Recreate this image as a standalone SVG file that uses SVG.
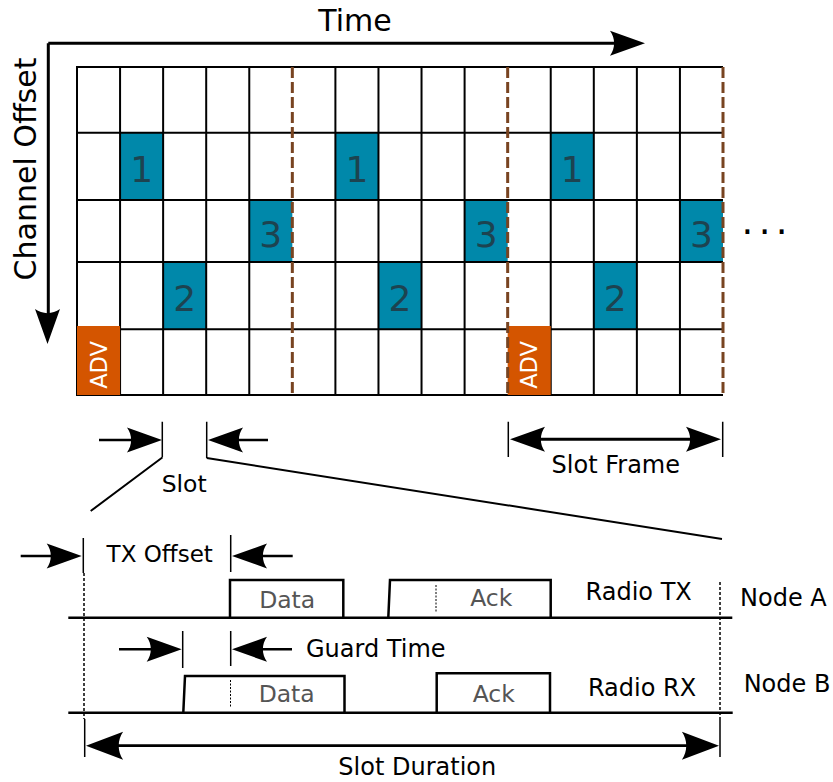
<svg xmlns="http://www.w3.org/2000/svg" width="833" height="782" viewBox="0 0 833 782">
<style>
text{font-family:"DejaVu Sans","Liberation Sans",sans-serif;text-anchor:middle}
.t{font-size:24px;fill:#000}
.gray{font-size:23.5px;fill:#555}
.dig{font-size:36px;fill:#1d4350}
.adv{font-size:22.5px;fill:#fff}
.blue{fill:#0088aa}
.orange{fill:#d45500}
.grid{stroke:#000;stroke-width:2;fill:none}
.div{stroke:#784421;stroke-width:3;stroke-dasharray:11 4;fill:none}
.axis{stroke:#000;stroke-width:3;fill:none}
.ln{stroke:#000;stroke-width:2.5;fill:none}
.thin{stroke:#000;stroke-width:1.5;fill:none}
.dot{stroke:#000;stroke-width:1.5;stroke-dasharray:3 2;fill:none}
.fine{stroke:#000;stroke-width:1;stroke-dasharray:2 1.5;fill:none}
</style>
<defs>
<path id="ah" d="M0,0 L-35,-12.5 C-29.5,-5 -29.5,5 -35,12.5 Z" fill="#000"/>
</defs>

<g id="axes">
<path class="axis" d="M48.3,43.3 H625 M48.3,43.3 V325"/>
<use href="#ah" transform="translate(645,43.3)"/>
<use href="#ah" transform="translate(47.5,344) rotate(90)"/>
<text x="355" y="31" style="font-size:30px">Time</text>
<text transform="translate(36,169) rotate(-90)" style="font-size:30px">Channel Offset</text>
</g>

<g id="cells">
<rect class="blue" x="120.07" y="132.7" width="43.07" height="67.3"/>
<rect class="blue" x="335.4" y="132.7" width="43.07" height="67.3"/>
<rect class="blue" x="550.73" y="132.7" width="43.07" height="67.3"/>
<rect class="blue" x="249.27" y="200" width="43.07" height="62"/>
<rect class="blue" x="464.6" y="200" width="43.07" height="62"/>
<rect class="blue" x="679.93" y="200" width="43.07" height="62"/>
<rect class="blue" x="163.13" y="262" width="43.07" height="67.3"/>
<rect class="blue" x="378.47" y="262" width="43.07" height="67.3"/>
<rect class="blue" x="593.8" y="262" width="43.07" height="67.3"/>
</g>

<g id="grid">
<path class="grid" d="M77,67 H723 M77,132.7 H723 M77,200 H723 M77,262 H723 M77,329.3 H723 M77,395 H723
M77,66 V396 M120.07,67 V395 M163.13,67 V395 M206.2,67 V395 M249.27,67 V395
M335.4,67 V395 M378.47,67 V395 M421.53,67 V395 M464.6,67 V395
M550.73,67 V395 M593.8,67 V395 M636.87,67 V395 M679.93,67 V395"/>
</g>

<g id="adv-cells">
<rect class="orange" x="77" y="326" width="43.07" height="69"/>
<rect class="orange" x="507.67" y="326" width="43.07" height="69"/>
<text class="adv" transform="translate(106.5,365) rotate(-90)">ADV</text>
<text class="adv" transform="translate(537.2,365) rotate(-90)">ADV</text>
</g>

<g id="frame-dividers">
<path class="div" d="M292.33,67 V395 M507.67,67 V395 M723,67 V395"/>
</g>

<g id="cell-labels">
<text class="dig" x="141.6" y="182">1</text>
<text class="dig" x="356.9" y="182">1</text>
<text class="dig" x="572.3" y="182">1</text>
<text class="dig" x="270.8" y="246.5">3</text>
<text class="dig" x="486.1" y="246.5">3</text>
<text class="dig" x="701.5" y="246.5">3</text>
<text class="dig" x="184.7" y="311">2</text>
<text class="dig" x="400" y="311">2</text>
<text class="dig" x="615.3" y="311">2</text>
<text x="741.6" y="233.5" style="font-size:37px;letter-spacing:5.3px;text-anchor:start">...</text>
</g>

<g id="slot-annotation">
<path class="ln" d="M99,440 H140 M230,440 H268"/>
<use href="#ah" transform="translate(162,440)"/>
<use href="#ah" transform="translate(208,440) rotate(180)"/>
<path class="thin" d="M162.3,421.7 V457.5 M206.7,421.7 V458"/>
<path class="thin" style="stroke-width:2" d="M162.3,457.5 L90.7,511 M206.7,458 L722,539"/>
<text class="t" x="184.2" y="492" style="font-size:23.5px">Slot</text>
</g>

<g id="slotframe-annotation">
<path class="thin" d="M508.3,421.7 V457 M722.7,421.7 V457"/>
<path class="axis" d="M530,439.3 H700"/>
<use href="#ah" transform="translate(510,439.3) rotate(180)"/>
<use href="#ah" transform="translate(721,439.3)"/>
<text class="t" x="615.8" y="472.7">Slot Frame</text>
</g>

<g id="tx-offset">
<path class="ln" d="M20.7,556 H60 M254,556 H292.7"/>
<use href="#ah" transform="translate(81.7,556)"/>
<use href="#ah" transform="translate(232,556) rotate(180)"/>
<path class="thin" d="M83.3,538 V573 M230.7,535 V572"/>
<text class="t" x="159.7" y="562" style="font-size:23px">TX Offset</text>
</g>

<g id="node-a">
<path class="ln" d="M68.3,617.7 H732.3"/>
<path class="ln" d="M230,617.7 V580 H343.3 V617.7"/>
<path class="ln" d="M388.3,617.7 L390,580 H550.7 V617.7"/>
<path class="fine" d="M436,585 V612"/>
<text class="gray" x="287.2" y="608.3">Data</text>
<text class="gray" x="491.3" y="606">Ack</text>
<text class="t" x="638.7" y="600">Radio TX</text>
<text class="t" x="783.4" y="605.7">Node A</text>
</g>

<g id="guard-time">
<path class="ln" d="M119,649.3 H160 M254,649.3 H292"/>
<use href="#ah" transform="translate(181.7,649.3)"/>
<use href="#ah" transform="translate(232,649.3) rotate(180)"/>
<path class="thin" d="M182.7,631 V668 M230.7,631 V666"/>
<text class="t" x="375.8" y="657.3">Guard Time</text>
</g>

<g id="node-b">
<path class="ln" d="M68.3,712.7 H732.7"/>
<path class="ln" d="M183.3,712.7 L185,676 H344.5 V712.7"/>
<path class="ln" d="M436.7,712.7 V673.3 H550 V712.7"/>
<path class="fine" d="M230.5,680 V707"/>
<text class="gray" x="286.7" y="701.7">Data</text>
<text class="gray" x="493.8" y="701.7">Ack</text>
<text class="t" x="642" y="696">Radio RX</text>
<text class="t" x="787" y="691.7">Node B</text>
</g>

<g id="slot-duration">
<path class="dot" d="M84,573 V719 M720,582 V719"/>
<path class="thin" d="M84.7,719 V757 M720,719 V757"/>
<path class="ln" style="stroke-width:2.8" d="M110,745.7 H696"/>
<use href="#ah" transform="translate(86,745.7) rotate(180) scale(1.06,1.12)"/>
<use href="#ah" transform="translate(719,745.7) scale(1.06,1.12)"/>
<text class="t" x="417.3" y="775">Slot Duration</text>
</g>
</svg>
